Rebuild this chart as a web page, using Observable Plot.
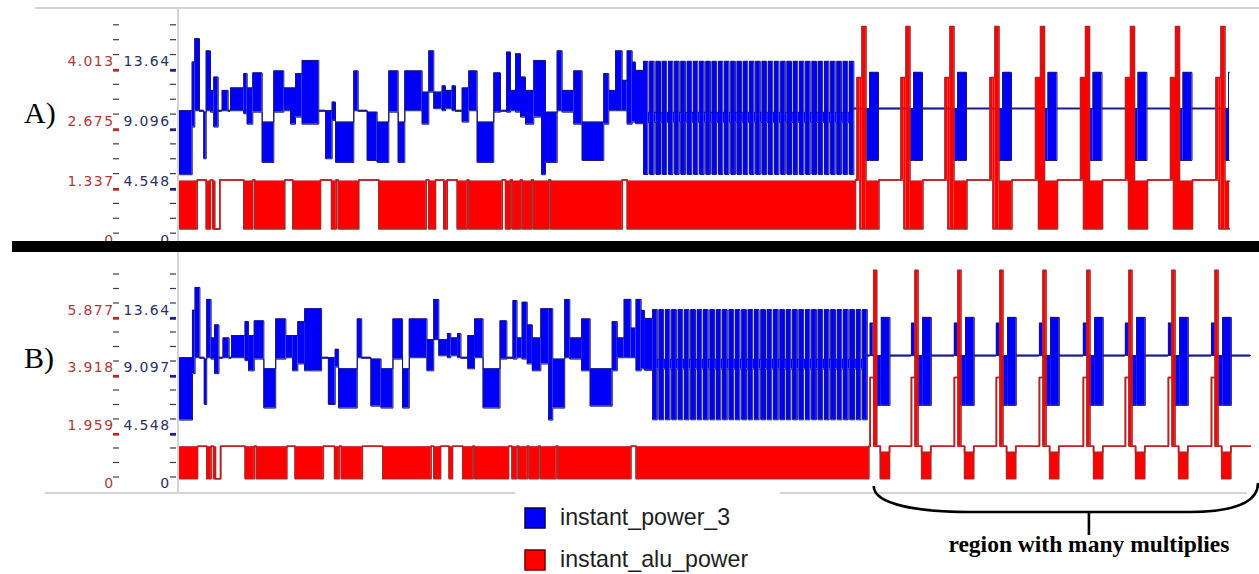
<!DOCTYPE html>
<html><head><meta charset="utf-8">
<script src="https://cdn.jsdelivr.net/npm/d3@7"></script>
<script src="https://cdn.jsdelivr.net/npm/@observablehq/plot@0.6"></script>
<style>
html,body{margin:0;padding:0;background:#fff;}
#root{position:relative;width:1259px;height:574px;overflow:hidden;background:#fff;}
</style></head><body><div id="root"></div>
<script>
// ---------------- DATA ----------------
// time axis: arbitrary simulation units; instant_power_3 (blue) in its own units,
// instant_alu_power (red) in its own units.

// blue, non-multiply part (shared by A and B): step starts, high and low envelope
const blueLeftT = [1, 13.7, 16.3, 21, 25.3, 27.7, 32, 35.3, 39.7, 43.7, 49.7, 52, 65.3, 68.7, 74.3, 83.7, 95.3, 105.3, 112, 117, 123.7, 140.3, 147, 153.7, 157, 175.3, 179.7, 188.7, 198.7, 210.3, 219.7, 226.3, 243.7, 250.3, 255.3, 263.7, 267, 273.7, 277, 283.7, 290.3, 298.7, 315.3, 322, 328, 332, 337, 342, 347, 355.3, 363, 367, 378.7, 383.7, 395.3, 403.7, 425.3, 430.3, 437, 443.7, 448.7, 453.7, 457];
const blueLeftEnd = 465;
const blueLeftHi = [10.49, 14.21, 16.00, 10.49, 10.38, 15.06, 12.04, 13.06, 10.49, 12.04, 10.49, 12.23, 13.32, 12.23, 13.38, 9.62, 13.53, 12.23, 12.23, 13.32, 14.33, 10.49, 10.49, 11.15, 9.62, 13.53, 10.49, 10.38, 9.62, 13.53, 9.62, 13.53, 11.91, 15.06, 11.91, 12.39, 12.04, 12.39, 10.49, 12.23, 13.53, 9.62, 13.38, 10.49, 14.97, 12.04, 14.84, 13.06, 12.04, 14.33, 14.33, 10.38, 15.06, 12.04, 13.53, 9.62, 13.32, 12.04, 15.06, 12.81, 15.06, 14.20, 13.57];
const blueLeftLo = [5.60, 9.24, 10.49, 10.49, 6.82, 10.49, 10.38, 9.24, 10.49, 10.49, 10.49, 10.49, 10.26, 9.46, 10.38, 6.54, 10.38, 10.49, 9.46, 10.00, 9.46, 10.49, 6.82, 9.75, 6.54, 10.49, 10.49, 6.69, 6.54, 10.38, 6.54, 10.49, 9.46, 11.91, 10.64, 10.49, 10.64, 10.49, 10.49, 9.62, 10.49, 6.54, 10.38, 10.49, 10.38, 10.49, 10.38, 10.00, 9.46, 10.00, 5.60, 6.54, 10.49, 10.38, 9.46, 6.69, 9.46, 10.49, 10.49, 10.49, 9.46, 9.62, 9.50];

// blue, dense oscillating part: bar start times, bar length, levels
const denseStart = [465.0, 471.2, 477.5, 483.7, 490.0, 496.2, 502.4, 508.7, 514.9, 521.2, 527.4, 533.6, 539.9, 546.1, 552.4, 558.6, 564.8, 571.1, 577.3, 583.6, 589.8, 596.0, 602.3, 608.5, 614.8, 621.0, 627.2, 633.5, 639.7, 646.0, 652.2, 658.4, 664.7, 670.9];
const denseBarLen = 4.5;
const denseHi = 14.26, denseLo = 5.62, denseMidHi = 10.36, denseMidLo = 9.60;
const blueIdle = 10.66;

// red, non-multiply part (shared): step starts and state
const redLeftT = [1, 18.7, 27.7, 32, 34.3, 36.3, 41.3, 65.3, 74.3, 76.3, 106.3, 114.3, 142, 153, 157.7, 159.7, 180.3, 200.3, 247.7, 250.3, 257, 265.3, 268.7, 278.7, 288.7, 290.3, 323.7, 327, 332, 333.7, 342, 343.7, 353, 354.7, 370.3, 372, 443.7, 448.7];
const redLeftState = ["band","idle","band","idle","band","low","idle","band","idle","band","idle","band","idle","band","idle","band","idle","band","idle","band","idle","band","idle","band","idle","band","idle","band","idle","band","idle","band","idle","band","idle","band","idle","band"];
const redLeftEnd = 677;
const redIdle = 1.53, redBandHi = 1.50, redBandLo = 0.43;

// multiply region: spike times per design
const spikesA = [685.5, 729.5, 773.5, 818.5, 864.0, 909.0, 954.0, 999.0, 1044.5];
const spikesB = [683.2, 723.7, 765.8, 807.0, 849.2, 892.3, 933.5, 975.7, 1017.9];
// one multiply: [dt start, dt end, high, low]
const mulRedA  = [[-7, -4, 3.83, 1.53], [-4, -2, 3.83, 0.43], [-2, 2, 4.98, 0.43], [2, 15, 1.50, 0.43]];
const mulBlueA = [[2, 5.5, 10.66, 6.69], [5.5, 14.5, 13.42, 6.69]];
const mulRedB  = [[-5, -1.5, 3.85, 3.85], [-1.5, 1.5, 7.47, 1.53], [5, 14, 1.32, 0.43]];
const mulBlueB = [[-5, -2, 13.2, 10.66], [0, 6, 10.66, 6.75], [6, 14.5, 13.65, 6.75]];
const traceEnd = 1051;

// axes
const bluePerRed = {A: 13.64 / 4.013, B: 13.64 / 5.877};
const labelPos = [0, 4.548, 9.096, 13.64];
const blueLabelsA = ["0", "4.548", "9.096", "13.64"];
const redLabelsA  = ["0", "1.337", "2.675", "4.013"];
const blueLabelsB = ["0", "4.548", "9.097", "13.64"];
const redLabelsB  = ["0", "1.959", "3.918", "5.877"];
const legendItems = ["instant_power_3", "instant_alu_power"];
const annotation = "region with many multiplies";

// ---------------- BUILD TABLES ----------------
function stepsFrom(T, end, hi, lo) {
  return T.map((t, i) => ({t0: t, t1: i + 1 < T.length ? T[i + 1] : end, hi: hi[i], lo: lo[i]}));
}
function denseSteps() {
  const out = [];
  denseStart.forEach((b, i) => {
    out.push({t0: b, t1: b + denseBarLen, hi: denseHi, lo: denseLo});
    if (i + 1 < denseStart.length) out.push({t0: b + denseBarLen, t1: denseStart[i + 1], hi: denseMidHi, lo: denseMidLo});
  });
  return out;
}
function mulSteps(spikes, shape) {
  return spikes.flatMap(t => shape.map(([a, b, hi, lo]) => ({t0: t + a, t1: t + b, hi, lo})));
}
function fillIdle(segs, idle, start, end) {
  segs = segs.slice().sort((a, b) => a.t0 - b.t0);
  const out = []; let cur = start;
  for (const s of segs) {
    if (s.t0 >= end) break;
    if (s.t0 > cur + 1e-6) out.push({t0: cur, t1: s.t0, hi: idle, lo: idle});
    const t1 = Math.min(s.t1, end);
    out.push({t0: Math.max(s.t0, cur), t1, hi: s.hi, lo: s.lo});
    cur = t1;
  }
  if (cur < end) out.push({t0: cur, t1: end, hi: idle, lo: idle});
  return out;
}
function edge(steps, key) {
  const pts = steps.map(s => ({t: s.t0, v: s[key]}));
  const last = steps[steps.length - 1];
  pts.push({t: last.t1, v: last[key]});
  return pts;
}
const redLevel = {band: [redBandHi, redBandLo], idle: [redIdle, redIdle], low: [redBandLo, redBandLo]};
const redLeft = stepsFrom(redLeftT, redLeftEnd, redLeftState.map(s => redLevel[s][0]), redLeftState.map(s => redLevel[s][1]));
const blueLeft = [...stepsFrom(blueLeftT, blueLeftEnd, blueLeftHi, blueLeftLo), ...denseSteps()];

const blueA = fillIdle([...blueLeft, ...mulSteps(spikesA, mulBlueA)], blueIdle, 1, traceEnd);
const redA  = fillIdle([...redLeft, ...mulSteps(spikesA, mulRedA)], redIdle, 1, traceEnd);
const blueB = fillIdle([...blueLeft, ...mulSteps(spikesB, mulBlueB)], blueIdle, 1, traceEnd);
const redB  = fillIdle([...redLeft, ...mulSteps(spikesB, mulRedB)], redIdle, 1, traceEnd);

const minorTicks = d3.range(1, 16).map(k => k * 4.548 / 4);

const BLUE = "#0000f8", NAVY = "#16167a", RED = "#ff0000", DARKRED = "#b82222";
const W = 1259, ML = 178;

function panel(blue, red, k, xDomain, yDomain, height, blueLabels, redLabels) {
  const lab = (arr) => arr.map((l, i) => ({v: labelPos[i], l}));
  const frameW = W - ML;
  return Plot.plot({
    width: W, height, marginLeft: ML, marginRight: 0, marginTop: 0, marginBottom: 0,
    x: {domain: xDomain, axis: null},
    y: {domain: yDomain, axis: null},
    style: {background: "transparent", overflow: "visible", fontFamily: "DejaVu Sans, sans-serif", letterSpacing: "1.4px"},
    marks: [
      Plot.rect(blue.filter(s => s.hi > s.lo), {x1: "t0", x2: "t1", y1: "lo", y2: "hi", fill: BLUE}),
      Plot.line(edge(blue, "lo"), {x: "t", y: "v", curve: "step-after", stroke: NAVY, strokeWidth: 1}),
      Plot.line(edge(blue, "hi"), {x: "t", y: "v", curve: "step-after", stroke: NAVY, strokeWidth: 1}),
      Plot.ruleY(blue.filter(s => s.hi === s.lo), {y: "lo", x1: "t0", x2: "t1", stroke: "#1c1c8c", strokeWidth: 2.2}),
      Plot.rect(red.filter(s => s.hi > s.lo), {x1: "t0", x2: "t1", y1: d => d.lo * k, y2: d => d.hi * k, fill: RED}),
      Plot.line(edge(red, "lo"), {x: "t", y: d => d.v * k, curve: "step-after", stroke: DARKRED, strokeWidth: 1.6}),
      Plot.line(edge(red, "hi"), {x: "t", y: d => d.v * k, curve: "step-after", stroke: DARKRED, strokeWidth: 1.6}),
      // tick columns
      Plot.ruleY(minorTicks, {y: d => d, insetRight: frameW - 6, dx: -65, stroke: "#5a3434", strokeWidth: 1.2}),
      Plot.ruleY(minorTicks, {y: d => d, insetRight: frameW - 6, dx: -8, stroke: "#34345a", strokeWidth: 1.2}),
      Plot.ruleY(labelPos.slice(1), {y: d => d, insetRight: frameW - 6, dx: -65, dy: 1, stroke: "#d02424", strokeWidth: 2.4}),
      Plot.ruleY(labelPos.slice(1), {y: d => d, insetRight: frameW - 6, dx: -8, dy: 1, stroke: "#1a1aa0", strokeWidth: 2.4}),
      Plot.text(lab(redLabels), {y: "v", text: "l", frameAnchor: "left", textAnchor: "end", lineAnchor: "bottom", dx: -64, dy: -3, fill: "#b03838", fontSize: 14}),
      Plot.text(lab(blueLabels), {y: "v", text: "l", frameAnchor: "left", textAnchor: "end", lineAnchor: "bottom", dx: -8, dy: -3, fill: "#2b2f66", fontSize: 14})
    ]
  });
}

const root = document.getElementById("root");
const xDomainA = [0, 1081], xDomainB = [0, 1060];
const plotA = panel(blueA, redA, bluePerRed.A, xDomainA, [0.5, 18.3], 233, blueLabelsA, redLabelsA);
const plotB = panel(blueB, redB, bluePerRed.B, xDomainB, [-0.08, 18.82], 241, blueLabelsB, redLabelsB);
for (const [p, top] of [[plotA, 8], [plotB, 251]]) {
  p.style.position = "absolute"; p.style.left = "0px"; p.style.top = top + "px";
  root.appendChild(p);
}

// ---------------- OVERLAY (frame lines, labels, legend, bracket) ----------------
const ov = d3.create("svg").attr("width", W).attr("height", 574)
  .style("position", "absolute").style("left", "0px").style("top", "0px").style("overflow", "visible");
const gray = "#d4d4d4";
ov.append("line").attr("x1", 35).attr("x2", W).attr("y1", 8).attr("y2", 8).attr("stroke", gray).attr("stroke-width", 2);
ov.append("line").attr("x1", ML).attr("x2", ML).attr("y1", 8).attr("y2", 241).attr("stroke", gray).attr("stroke-width", 2);
ov.append("line").attr("x1", ML).attr("x2", ML).attr("y1", 252).attr("y2", 493).attr("stroke", gray).attr("stroke-width", 2);
ov.append("line").attr("x1", 45).attr("x2", 515).attr("y1", 493).attr("y2", 493).attr("stroke", gray).attr("stroke-width", 2);
ov.append("line").attr("x1", 780).attr("x2", 1247).attr("y1", 493).attr("y2", 493).attr("stroke", gray).attr("stroke-width", 2);
ov.append("rect").attr("x", 12).attr("y", 241).attr("width", W - 12).attr("height", 11).attr("fill", "#000");

ov.append("text").attr("x", 24).attr("y", 123).attr("font-family", "Liberation Serif, serif").attr("font-size", 30).text("A)");
ov.append("text").attr("x", 24).attr("y", 368).attr("font-family", "Liberation Serif, serif").attr("font-size", 30).text("B)");

// legend
const legendColors = [[BLUE, "#00004a"], [RED, "#6a0000"]];
legendItems.forEach((name, i) => {
  const y = 508 + i * 42;
  ov.append("rect").attr("x", 525).attr("y", y).attr("width", 20).attr("height", 20)
    .attr("fill", legendColors[i][0]).attr("stroke", legendColors[i][1]).attr("stroke-width", 1.5);
  ov.append("text").attr("x", 560).attr("y", y + 17).attr("font-family", "Liberation Sans, Arial, sans-serif")
    .attr("font-size", 23.2).attr("fill", "#1e1e1e").text(name);
});

// bracket over the multiply region of B, placed with B's x scale
const sx = plotB.scale("x");
const xs = sx.apply(spikesB[0] - 1), xe = sx.apply(xDomainB[1]) - 1;
const span = xe - xs;
const xl = xs + 0.25 * span, xm = xs + 0.56 * span, xr = xs + 0.82 * span;
ov.append("path")
  .attr("d", `M${xs},486 C${xs},505 ${xs + 0.12 * span},512 ${xl},512 L${xr},512 C${xe - 0.08 * span},512 ${xe},505 ${xe},483`)
  .attr("fill", "none").attr("stroke", "#000").attr("stroke-width", 2.6);
ov.append("line").attr("x1", xm).attr("x2", xm).attr("y1", 512).attr("y2", 535).attr("stroke", "#000").attr("stroke-width", 2.6);
ov.append("text").attr("x", xm).attr("y", 552).attr("text-anchor", "middle")
  .attr("font-family", "Liberation Serif, serif").attr("font-weight", "bold").attr("font-size", 23.5).text(annotation);

root.appendChild(ov.node());
</script></body></html>
